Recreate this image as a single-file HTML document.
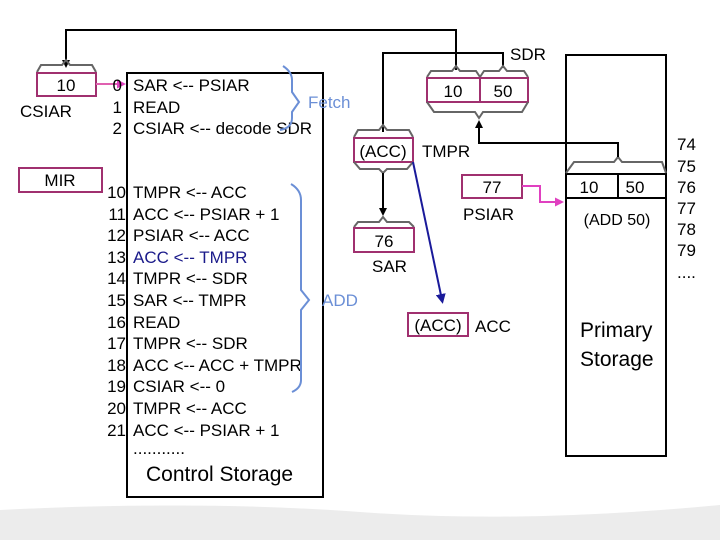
<!DOCTYPE html>
<html><head><style>
html,body{margin:0;padding:0;background:#fff;}
svg{display:block;}
text{font-family:"Liberation Sans",sans-serif;font-size:17px;fill:#000;}
</style></head><body>
<svg width="720" height="540" viewBox="0 0 720 540" xmlns="http://www.w3.org/2000/svg">
<defs>
<marker id="ab" markerWidth="8" markerHeight="8" refX="4" refY="4" orient="auto" markerUnits="userSpaceOnUse"><path d="M0,0 L8,4 L0,8 z" fill="#000"/></marker>
<marker id="ap" markerWidth="9" markerHeight="9" refX="5" refY="4.5" orient="auto" markerUnits="userSpaceOnUse"><path d="M0,0 L9,4.5 L0,9 z" fill="#e040c0"/></marker>
<marker id="an" markerWidth="10" markerHeight="10" refX="6" refY="5" orient="auto" markerUnits="userSpaceOnUse"><path d="M0,0 L10,5 L0,10 z" fill="#1a1a9a"/></marker>
</defs>
<!-- ground -->
<path d="M0,510 Q200,500 360,512 T720,505 L720,540 L0,540 z" fill="#ececec"/>

<!-- top connector -->
<polyline points="456,70 456,30 66,30 66,64" fill="none" stroke="#000" stroke-width="2" marker-end="url(#ab)"/>
<polyline points="383,132 383,53 503,53 503,68" fill="none" stroke="#000" stroke-width="2"/>

<!-- CSIAR -->
<path d="M37,72 L41,65 L62,65 L66,60 L70,65 L92,65 L96,72" fill="none" stroke="#666" stroke-width="2"/>
<rect x="37" y="73" width="59" height="23" fill="#fff" stroke="#a0306f" stroke-width="2"/>
<text x="66" y="91" text-anchor="middle">10</text>
<text x="20" y="117">CSIAR</text>
<rect x="19" y="168" width="83" height="24" fill="#fff" stroke="#a0306f" stroke-width="2"/>
<text x="60" y="186" text-anchor="middle">MIR</text>
<line x1="96" y1="84" x2="122" y2="84" stroke="#e060b0" stroke-width="2" marker-end="url(#ap)"/>

<!-- Control storage -->
<rect x="127" y="73" width="196" height="424" fill="#fff" stroke="#000" stroke-width="2"/>
<g text-anchor="end">
<text x="122" y="91">0</text><text x="122" y="113">1</text><text x="122" y="134">2</text>
<text x="126" y="198">10</text><text x="126" y="220">11</text><text x="126" y="241">12</text><text x="126" y="263">13</text><text x="126" y="284">14</text><text x="126" y="306">15</text><text x="126" y="328">16</text><text x="126" y="349">17</text><text x="126" y="371">18</text><text x="126" y="392">19</text><text x="126" y="414">20</text><text x="126" y="436">21</text>
</g>
<text x="133" y="91">SAR &lt;-- PSIAR</text>
<text x="133" y="113">READ</text>
<text x="133" y="134">CSIAR &lt;-- decode SDR</text>
<text x="133" y="198">TMPR &lt;-- ACC</text>
<text x="133" y="220">ACC &lt;-- PSIAR + 1</text>
<text x="133" y="241">PSIAR &lt;-- ACC</text>
<text x="133" y="263" style="fill:#1a1a8a">ACC &lt;-- TMPR</text>
<text x="133" y="284">TMPR &lt;-- SDR</text>
<text x="133" y="306">SAR &lt;-- TMPR</text>
<text x="133" y="328">READ</text>
<text x="133" y="349">TMPR &lt;-- SDR</text>
<text x="133" y="371">ACC &lt;-- ACC + TMPR</text>
<text x="133" y="392">CSIAR &lt;-- 0</text>
<text x="133" y="414">TMPR &lt;-- ACC</text>
<text x="133" y="436">ACC &lt;-- PSIAR + 1</text>
<text x="133" y="454">...........</text>
<text x="146" y="481" style="font-size:21px">Control Storage</text>

<!-- braces -->
<path d="M283,66 Q292,72 292,80 L292,92 L299,102 L292,112 L292,118 Q292,128 280,130" fill="none" stroke="#6b8fd6" stroke-width="2"/>
<text x="308" y="108" style="fill:#6b8fd6">Fetch</text>
<path d="M291,184 Q301,190 301,200 L301,290 L309,300 L301,310 L301,380 Q301,388 292,392" fill="none" stroke="#6b8fd6" stroke-width="2"/>
<text x="322" y="306" style="fill:#6b8fd6">ADD</text>

<!-- SDR -->
<path d="M427,77 L431,71 L452,71 L456,66 L460,71 L476,71 L480,77 L484,71 L499,71 L503,66 L507,71 L524,71 L528,77" fill="none" stroke="#666" stroke-width="2"/>
<rect x="427" y="78" width="101" height="24" fill="#fff" stroke="#a0306f" stroke-width="2"/>
<line x1="480" y1="78" x2="480" y2="102" stroke="#a0306f" stroke-width="2"/>
<path d="M427,102 L434,112 L475,112 L479,118 L483,112 L522,112 L528,102" fill="none" stroke="#666" stroke-width="2"/>
<text x="453" y="97" text-anchor="middle">10</text>
<text x="503" y="97" text-anchor="middle">50</text>
<text x="510" y="60">SDR</text>

<!-- TMPR -->
<path d="M354,137 L358,130 L379,130 L383,125 L387,130 L409,130 L413,137" fill="none" stroke="#666" stroke-width="2"/>
<rect x="354" y="138" width="59" height="24" fill="#fff" stroke="#a0306f" stroke-width="2"/>
<path d="M354,162 L360,169 L379,169 L383,173 L387,169 L407,169 L413,162" fill="none" stroke="#666" stroke-width="2"/>
<text x="383" y="157" text-anchor="middle">(ACC)</text>
<text x="422" y="157">TMPR</text>
<line x1="383" y1="173" x2="383" y2="212" stroke="#000" stroke-width="2" marker-end="url(#ab)"/>

<!-- SAR -->
<path d="M354,227 L358,222 L379,222 L383,217 L387,222 L409,222 L414,227" fill="none" stroke="#666" stroke-width="2"/>
<rect x="354" y="228" width="60" height="24" fill="#fff" stroke="#a0306f" stroke-width="2"/>
<text x="384" y="247" text-anchor="middle">76</text>
<text x="372" y="272">SAR</text>

<!-- blue arrow -->
<line x1="413" y1="162" x2="442" y2="300" stroke="#1a1a9a" stroke-width="2" marker-end="url(#an)"/>
<rect x="408" y="313" width="60" height="23" fill="#fff" stroke="#a0306f" stroke-width="2"/>
<text x="438" y="331" text-anchor="middle">(ACC)</text>
<text x="475" y="332">ACC</text>

<!-- PSIAR -->
<rect x="462" y="175" width="60" height="23" fill="#fff" stroke="#a0306f" stroke-width="2"/>
<text x="492" y="193" text-anchor="middle">77</text>
<text x="463" y="220">PSIAR</text>
<polyline points="522,186 540,186 540,202 560,202" fill="none" stroke="#e040c0" stroke-width="2" marker-end="url(#ap)"/>

<!-- Primary storage -->
<rect x="566" y="55" width="100" height="401" fill="#fff" stroke="#000" stroke-width="2"/>
<line x1="566" y1="174" x2="666" y2="174" stroke="#000" stroke-width="2"/>
<line x1="566" y1="198" x2="666" y2="198" stroke="#000" stroke-width="2"/>
<line x1="618" y1="174" x2="618" y2="198" stroke="#000" stroke-width="2"/>
<text x="589" y="193" text-anchor="middle">10</text>
<text x="635" y="193" text-anchor="middle">50</text>
<text x="617" y="225" text-anchor="middle" style="font-size:16px">(ADD 50)</text>
<path d="M566,173 L574,162 L614,162 L618,157 L622,162 L662,162 L666,173" fill="none" stroke="#666" stroke-width="2"/>
<polyline points="618,157 618,143 479,143 479,124" fill="none" stroke="#000" stroke-width="2" marker-end="url(#ab)"/>
<text x="580" y="337" style="font-size:21px">Primary</text>
<text x="580" y="366" style="font-size:21px">Storage</text>

<g style="font-size:16px">
<text x="677" y="150">74</text><text x="677" y="172">75</text><text x="677" y="193">76</text><text x="677" y="214">77</text><text x="677" y="235">78</text><text x="677" y="256">79</text><text x="677" y="278">....</text>
</g>
</svg>
</body></html>
